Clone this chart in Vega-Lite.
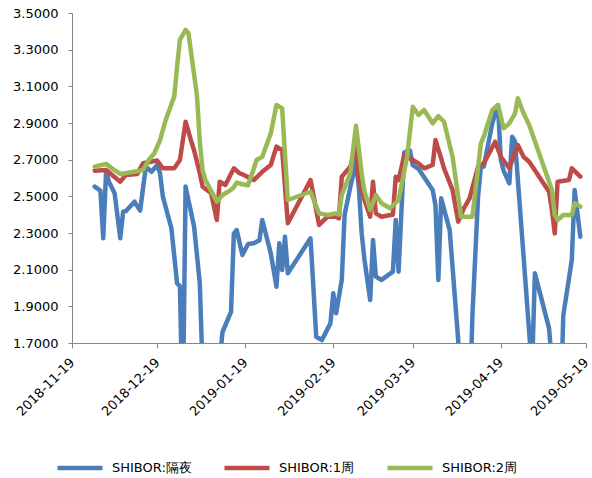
{
  "$schema": "https://vega.github.io/schema/vega-lite/v6.json",
  "width": 514,
  "height": 330,
  "autosize": {"type": "none"},
  "padding": {"left": 72, "top": 13, "right": 6, "bottom": 135},
  "config": {
    "view": {"stroke": null},
    "font": "DejaVu Sans",
    "axis": {"labelFont": "DejaVu Sans", "labelFontSize": 13, "labelColor": "#000000", "domainColor": "#868686", "tickColor": "#868686", "grid": false, "title": null}
  },
  "data": {
    "values": [
      {"date": "2018-11-27", "series": "SHIBOR:隔夜", "value": 2.553},
      {"date": "2018-11-29", "series": "SHIBOR:隔夜", "value": 2.531},
      {"date": "2018-11-30", "series": "SHIBOR:隔夜", "value": 2.271},
      {"date": "2018-12-01", "series": "SHIBOR:隔夜", "value": 2.634},
      {"date": "2018-12-02", "series": "SHIBOR:隔夜", "value": 2.58},
      {"date": "2018-12-04", "series": "SHIBOR:隔夜", "value": 2.517},
      {"date": "2018-12-06", "series": "SHIBOR:隔夜", "value": 2.271},
      {"date": "2018-12-07", "series": "SHIBOR:隔夜", "value": 2.416},
      {"date": "2018-12-08", "series": "SHIBOR:隔夜", "value": 2.42},
      {"date": "2018-12-11", "series": "SHIBOR:隔夜", "value": 2.471},
      {"date": "2018-12-13", "series": "SHIBOR:隔夜", "value": 2.422},
      {"date": "2018-12-15", "series": "SHIBOR:隔夜", "value": 2.662},
      {"date": "2018-12-17", "series": "SHIBOR:隔夜", "value": 2.634},
      {"date": "2018-12-19", "series": "SHIBOR:隔夜", "value": 2.671},
      {"date": "2018-12-20", "series": "SHIBOR:隔夜", "value": 2.626},
      {"date": "2018-12-21", "series": "SHIBOR:隔夜", "value": 2.498},
      {"date": "2018-12-24", "series": "SHIBOR:隔夜", "value": 2.326},
      {"date": "2018-12-26", "series": "SHIBOR:隔夜", "value": 2.026},
      {"date": "2018-12-27", "series": "SHIBOR:隔夜", "value": 2.01},
      {"date": "2018-12-28", "series": "SHIBOR:隔夜", "value": 1.3},
      {"date": "2018-12-29", "series": "SHIBOR:隔夜", "value": 2.553},
      {"date": "2019-01-01", "series": "SHIBOR:隔夜", "value": 2.334},
      {"date": "2019-01-03", "series": "SHIBOR:隔夜", "value": 2.026},
      {"date": "2019-01-04", "series": "SHIBOR:隔夜", "value": 1.55},
      {"date": "2019-01-07", "series": "SHIBOR:隔夜", "value": 1.05},
      {"date": "2019-01-08", "series": "SHIBOR:隔夜", "value": 1.15},
      {"date": "2019-01-09", "series": "SHIBOR:隔夜", "value": 1.35},
      {"date": "2019-01-10", "series": "SHIBOR:隔夜", "value": 1.6},
      {"date": "2019-01-11", "series": "SHIBOR:隔夜", "value": 1.76},
      {"date": "2019-01-14", "series": "SHIBOR:隔夜", "value": 1.87},
      {"date": "2019-01-15", "series": "SHIBOR:隔夜", "value": 2.298},
      {"date": "2019-01-16", "series": "SHIBOR:隔夜", "value": 2.316},
      {"date": "2019-01-18", "series": "SHIBOR:隔夜", "value": 2.18},
      {"date": "2019-01-20", "series": "SHIBOR:隔夜", "value": 2.24},
      {"date": "2019-01-22", "series": "SHIBOR:隔夜", "value": 2.244},
      {"date": "2019-01-24", "series": "SHIBOR:隔夜", "value": 2.26},
      {"date": "2019-01-25", "series": "SHIBOR:隔夜", "value": 2.371},
      {"date": "2019-01-28", "series": "SHIBOR:隔夜", "value": 2.189},
      {"date": "2019-01-30", "series": "SHIBOR:隔夜", "value": 2.007},
      {"date": "2019-01-31", "series": "SHIBOR:隔夜", "value": 2.244},
      {"date": "2019-02-01", "series": "SHIBOR:隔夜", "value": 2.098},
      {"date": "2019-02-02", "series": "SHIBOR:隔夜", "value": 2.28},
      {"date": "2019-02-03", "series": "SHIBOR:隔夜", "value": 2.08},
      {"date": "2019-02-11", "series": "SHIBOR:隔夜", "value": 2.271},
      {"date": "2019-02-13", "series": "SHIBOR:隔夜", "value": 1.734},
      {"date": "2019-02-15", "series": "SHIBOR:隔夜", "value": 1.716},
      {"date": "2019-02-18", "series": "SHIBOR:隔夜", "value": 1.807},
      {"date": "2019-02-19", "series": "SHIBOR:隔夜", "value": 1.971},
      {"date": "2019-02-20", "series": "SHIBOR:隔夜", "value": 1.862},
      {"date": "2019-02-22", "series": "SHIBOR:隔夜", "value": 2.044},
      {"date": "2019-02-23", "series": "SHIBOR:隔夜", "value": 2.4},
      {"date": "2019-02-25", "series": "SHIBOR:隔夜", "value": 2.55},
      {"date": "2019-02-27", "series": "SHIBOR:隔夜", "value": 2.689},
      {"date": "2019-02-28", "series": "SHIBOR:隔夜", "value": 2.55},
      {"date": "2019-03-01", "series": "SHIBOR:隔夜", "value": 2.3},
      {"date": "2019-03-02", "series": "SHIBOR:隔夜", "value": 2.153},
      {"date": "2019-03-04", "series": "SHIBOR:隔夜", "value": 1.935},
      {"date": "2019-03-05", "series": "SHIBOR:隔夜", "value": 2.262},
      {"date": "2019-03-06", "series": "SHIBOR:隔夜", "value": 2.062},
      {"date": "2019-03-08", "series": "SHIBOR:隔夜", "value": 2.044},
      {"date": "2019-03-12", "series": "SHIBOR:隔夜", "value": 2.089},
      {"date": "2019-03-13", "series": "SHIBOR:隔夜", "value": 2.371},
      {"date": "2019-03-14", "series": "SHIBOR:隔夜", "value": 2.089},
      {"date": "2019-03-16", "series": "SHIBOR:隔夜", "value": 2.74},
      {"date": "2019-03-18", "series": "SHIBOR:隔夜", "value": 2.75},
      {"date": "2019-03-19", "series": "SHIBOR:隔夜", "value": 2.67},
      {"date": "2019-03-21", "series": "SHIBOR:隔夜", "value": 2.65},
      {"date": "2019-03-26", "series": "SHIBOR:隔夜", "value": 2.535},
      {"date": "2019-03-27", "series": "SHIBOR:隔夜", "value": 2.45},
      {"date": "2019-03-28", "series": "SHIBOR:隔夜", "value": 2.044},
      {"date": "2019-03-29", "series": "SHIBOR:隔夜", "value": 2.489},
      {"date": "2019-04-01", "series": "SHIBOR:隔夜", "value": 2.316},
      {"date": "2019-04-04", "series": "SHIBOR:隔夜", "value": 1.716},
      {"date": "2019-04-05", "series": "SHIBOR:隔夜", "value": 1.3},
      {"date": "2019-04-08", "series": "SHIBOR:隔夜", "value": 1.3},
      {"date": "2019-04-09", "series": "SHIBOR:隔夜", "value": 1.85},
      {"date": "2019-04-11", "series": "SHIBOR:隔夜", "value": 2.5},
      {"date": "2019-04-12", "series": "SHIBOR:隔夜", "value": 2.662},
      {"date": "2019-04-13", "series": "SHIBOR:隔夜", "value": 2.662},
      {"date": "2019-04-16", "series": "SHIBOR:隔夜", "value": 2.898},
      {"date": "2019-04-18", "series": "SHIBOR:隔夜", "value": 2.998},
      {"date": "2019-04-19", "series": "SHIBOR:隔夜", "value": 2.7},
      {"date": "2019-04-20", "series": "SHIBOR:隔夜", "value": 2.64},
      {"date": "2019-04-22", "series": "SHIBOR:隔夜", "value": 2.571},
      {"date": "2019-04-23", "series": "SHIBOR:隔夜", "value": 2.825},
      {"date": "2019-04-24", "series": "SHIBOR:隔夜", "value": 2.8},
      {"date": "2019-04-30", "series": "SHIBOR:隔夜", "value": 1.55},
      {"date": "2019-05-01", "series": "SHIBOR:隔夜", "value": 2.08},
      {"date": "2019-05-06", "series": "SHIBOR:隔夜", "value": 1.78},
      {"date": "2019-05-08", "series": "SHIBOR:隔夜", "value": 1.4},
      {"date": "2019-05-10", "series": "SHIBOR:隔夜", "value": 1.3},
      {"date": "2019-05-11", "series": "SHIBOR:隔夜", "value": 1.85},
      {"date": "2019-05-14", "series": "SHIBOR:隔夜", "value": 2.153},
      {"date": "2019-05-15", "series": "SHIBOR:隔夜", "value": 2.535},
      {"date": "2019-05-17", "series": "SHIBOR:隔夜", "value": 2.28},

      {"date": "2018-11-27", "series": "SHIBOR:1周", "value": 2.64},
      {"date": "2018-12-01", "series": "SHIBOR:1周", "value": 2.644},
      {"date": "2018-12-06", "series": "SHIBOR:1周", "value": 2.58},
      {"date": "2018-12-08", "series": "SHIBOR:1周", "value": 2.617},
      {"date": "2018-12-12", "series": "SHIBOR:1周", "value": 2.622},
      {"date": "2018-12-14", "series": "SHIBOR:1周", "value": 2.68},
      {"date": "2018-12-19", "series": "SHIBOR:1周", "value": 2.695},
      {"date": "2018-12-21", "series": "SHIBOR:1周", "value": 2.653},
      {"date": "2018-12-25", "series": "SHIBOR:1周", "value": 2.653},
      {"date": "2018-12-27", "series": "SHIBOR:1周", "value": 2.698},
      {"date": "2018-12-29", "series": "SHIBOR:1周", "value": 2.907},
      {"date": "2018-12-31", "series": "SHIBOR:1周", "value": 2.8},
      {"date": "2019-01-01", "series": "SHIBOR:1周", "value": 2.75},
      {"date": "2019-01-03", "series": "SHIBOR:1周", "value": 2.626},
      {"date": "2019-01-04", "series": "SHIBOR:1周", "value": 2.553},
      {"date": "2019-01-07", "series": "SHIBOR:1周", "value": 2.517},
      {"date": "2019-01-09", "series": "SHIBOR:1周", "value": 2.371},
      {"date": "2019-01-10", "series": "SHIBOR:1周", "value": 2.58},
      {"date": "2019-01-12", "series": "SHIBOR:1周", "value": 2.562},
      {"date": "2019-01-15", "series": "SHIBOR:1周", "value": 2.653},
      {"date": "2019-01-17", "series": "SHIBOR:1周", "value": 2.626},
      {"date": "2019-01-18", "series": "SHIBOR:1周", "value": 2.62},
      {"date": "2019-01-22", "series": "SHIBOR:1周", "value": 2.589},
      {"date": "2019-01-25", "series": "SHIBOR:1周", "value": 2.634},
      {"date": "2019-01-28", "series": "SHIBOR:1周", "value": 2.671},
      {"date": "2019-01-30", "series": "SHIBOR:1周", "value": 2.771},
      {"date": "2019-02-01", "series": "SHIBOR:1周", "value": 2.753},
      {"date": "2019-02-03", "series": "SHIBOR:1周", "value": 2.353},
      {"date": "2019-02-11", "series": "SHIBOR:1周", "value": 2.589},
      {"date": "2019-02-14", "series": "SHIBOR:1周", "value": 2.344},
      {"date": "2019-02-17", "series": "SHIBOR:1周", "value": 2.389},
      {"date": "2019-02-20", "series": "SHIBOR:1周", "value": 2.389},
      {"date": "2019-02-21", "series": "SHIBOR:1周", "value": 2.38},
      {"date": "2019-02-22", "series": "SHIBOR:1周", "value": 2.607},
      {"date": "2019-02-25", "series": "SHIBOR:1周", "value": 2.662},
      {"date": "2019-02-27", "series": "SHIBOR:1周", "value": 2.771},
      {"date": "2019-02-28", "series": "SHIBOR:1周", "value": 2.589},
      {"date": "2019-03-02", "series": "SHIBOR:1周", "value": 2.48},
      {"date": "2019-03-04", "series": "SHIBOR:1周", "value": 2.389},
      {"date": "2019-03-05", "series": "SHIBOR:1周", "value": 2.58},
      {"date": "2019-03-06", "series": "SHIBOR:1周", "value": 2.407},
      {"date": "2019-03-08", "series": "SHIBOR:1周", "value": 2.389},
      {"date": "2019-03-11", "series": "SHIBOR:1周", "value": 2.398},
      {"date": "2019-03-12", "series": "SHIBOR:1周", "value": 2.4},
      {"date": "2019-03-13", "series": "SHIBOR:1周", "value": 2.607},
      {"date": "2019-03-14", "series": "SHIBOR:1周", "value": 2.589},
      {"date": "2019-03-16", "series": "SHIBOR:1周", "value": 2.726},
      {"date": "2019-03-19", "series": "SHIBOR:1周", "value": 2.698},
      {"date": "2019-03-21", "series": "SHIBOR:1周", "value": 2.68},
      {"date": "2019-03-23", "series": "SHIBOR:1周", "value": 2.653},
      {"date": "2019-03-26", "series": "SHIBOR:1周", "value": 2.671},
      {"date": "2019-03-27", "series": "SHIBOR:1周", "value": 2.807},
      {"date": "2019-03-29", "series": "SHIBOR:1周", "value": 2.707},
      {"date": "2019-03-30", "series": "SHIBOR:1周", "value": 2.653},
      {"date": "2019-04-02", "series": "SHIBOR:1周", "value": 2.535},
      {"date": "2019-04-04", "series": "SHIBOR:1周", "value": 2.362},
      {"date": "2019-04-06", "series": "SHIBOR:1周", "value": 2.435},
      {"date": "2019-04-08", "series": "SHIBOR:1周", "value": 2.489},
      {"date": "2019-04-11", "series": "SHIBOR:1周", "value": 2.662},
      {"date": "2019-04-13", "series": "SHIBOR:1周", "value": 2.68},
      {"date": "2019-04-17", "series": "SHIBOR:1周", "value": 2.798},
      {"date": "2019-04-19", "series": "SHIBOR:1周", "value": 2.716},
      {"date": "2019-04-22", "series": "SHIBOR:1周", "value": 2.653},
      {"date": "2019-04-25", "series": "SHIBOR:1周", "value": 2.78},
      {"date": "2019-04-27", "series": "SHIBOR:1周", "value": 2.716},
      {"date": "2019-04-29", "series": "SHIBOR:1周", "value": 2.689},
      {"date": "2019-05-06", "series": "SHIBOR:1周", "value": 2.525},
      {"date": "2019-05-07", "series": "SHIBOR:1周", "value": 2.426},
      {"date": "2019-05-08", "series": "SHIBOR:1周", "value": 2.298},
      {"date": "2019-05-09", "series": "SHIBOR:1周", "value": 2.58},
      {"date": "2019-05-13", "series": "SHIBOR:1周", "value": 2.589},
      {"date": "2019-05-14", "series": "SHIBOR:1周", "value": 2.653},
      {"date": "2019-05-17", "series": "SHIBOR:1周", "value": 2.607},

      {"date": "2018-11-27", "series": "SHIBOR:2周", "value": 2.662},
      {"date": "2018-12-01", "series": "SHIBOR:2周", "value": 2.677},
      {"date": "2018-12-03", "series": "SHIBOR:2周", "value": 2.653},
      {"date": "2018-12-06", "series": "SHIBOR:2周", "value": 2.622},
      {"date": "2018-12-11", "series": "SHIBOR:2周", "value": 2.634},
      {"date": "2018-12-14", "series": "SHIBOR:2周", "value": 2.644},
      {"date": "2018-12-16", "series": "SHIBOR:2周", "value": 2.698},
      {"date": "2018-12-18", "series": "SHIBOR:2周", "value": 2.735},
      {"date": "2018-12-20", "series": "SHIBOR:2周", "value": 2.807},
      {"date": "2018-12-22", "series": "SHIBOR:2周", "value": 2.917},
      {"date": "2018-12-25", "series": "SHIBOR:2周", "value": 3.044},
      {"date": "2018-12-26", "series": "SHIBOR:2周", "value": 3.207},
      {"date": "2018-12-27", "series": "SHIBOR:2周", "value": 3.353},
      {"date": "2018-12-29", "series": "SHIBOR:2周", "value": 3.408},
      {"date": "2018-12-30", "series": "SHIBOR:2周", "value": 3.39},
      {"date": "2019-01-02", "series": "SHIBOR:2周", "value": 3.05},
      {"date": "2019-01-03", "series": "SHIBOR:2周", "value": 2.8},
      {"date": "2019-01-04", "series": "SHIBOR:2周", "value": 2.64},
      {"date": "2019-01-05", "series": "SHIBOR:2周", "value": 2.589},
      {"date": "2019-01-07", "series": "SHIBOR:2周", "value": 2.53},
      {"date": "2019-01-09", "series": "SHIBOR:2周", "value": 2.471},
      {"date": "2019-01-11", "series": "SHIBOR:2周", "value": 2.507},
      {"date": "2019-01-14", "series": "SHIBOR:2周", "value": 2.535},
      {"date": "2019-01-15", "series": "SHIBOR:2周", "value": 2.55},
      {"date": "2019-01-16", "series": "SHIBOR:2周", "value": 2.575},
      {"date": "2019-01-18", "series": "SHIBOR:2周", "value": 2.566},
      {"date": "2019-01-20", "series": "SHIBOR:2周", "value": 2.56},
      {"date": "2019-01-22", "series": "SHIBOR:2周", "value": 2.65},
      {"date": "2019-01-23", "series": "SHIBOR:2周", "value": 2.698},
      {"date": "2019-01-25", "series": "SHIBOR:2周", "value": 2.716},
      {"date": "2019-01-28", "series": "SHIBOR:2周", "value": 2.844},
      {"date": "2019-01-30", "series": "SHIBOR:2周", "value": 2.998},
      {"date": "2019-02-01", "series": "SHIBOR:2周", "value": 2.98},
      {"date": "2019-02-03", "series": "SHIBOR:2周", "value": 2.48},
      {"date": "2019-02-11", "series": "SHIBOR:2周", "value": 2.525},
      {"date": "2019-02-14", "series": "SHIBOR:2周", "value": 2.407},
      {"date": "2019-02-17", "series": "SHIBOR:2周", "value": 2.398},
      {"date": "2019-02-20", "series": "SHIBOR:2周", "value": 2.407},
      {"date": "2019-02-21", "series": "SHIBOR:2周", "value": 2.4},
      {"date": "2019-02-22", "series": "SHIBOR:2周", "value": 2.507},
      {"date": "2019-02-25", "series": "SHIBOR:2周", "value": 2.626},
      {"date": "2019-02-27", "series": "SHIBOR:2周", "value": 2.885},
      {"date": "2019-03-01", "series": "SHIBOR:2周", "value": 2.626},
      {"date": "2019-03-02", "series": "SHIBOR:2周", "value": 2.525},
      {"date": "2019-03-04", "series": "SHIBOR:2周", "value": 2.426},
      {"date": "2019-03-06", "series": "SHIBOR:2周", "value": 2.507},
      {"date": "2019-03-08", "series": "SHIBOR:2周", "value": 2.462},
      {"date": "2019-03-11", "series": "SHIBOR:2周", "value": 2.435},
      {"date": "2019-03-14", "series": "SHIBOR:2周", "value": 2.48},
      {"date": "2019-03-17", "series": "SHIBOR:2周", "value": 2.716},
      {"date": "2019-03-19", "series": "SHIBOR:2周", "value": 2.989},
      {"date": "2019-03-21", "series": "SHIBOR:2周", "value": 2.944},
      {"date": "2019-03-23", "series": "SHIBOR:2周", "value": 2.971},
      {"date": "2019-03-26", "series": "SHIBOR:2周", "value": 2.898},
      {"date": "2019-03-28", "series": "SHIBOR:2周", "value": 2.938},
      {"date": "2019-03-30", "series": "SHIBOR:2周", "value": 2.907},
      {"date": "2019-04-02", "series": "SHIBOR:2周", "value": 2.716},
      {"date": "2019-04-05", "series": "SHIBOR:2周", "value": 2.389},
      {"date": "2019-04-09", "series": "SHIBOR:2周", "value": 2.389},
      {"date": "2019-04-12", "series": "SHIBOR:2周", "value": 2.789},
      {"date": "2019-04-13", "series": "SHIBOR:2周", "value": 2.825},
      {"date": "2019-04-16", "series": "SHIBOR:2周", "value": 2.971},
      {"date": "2019-04-18", "series": "SHIBOR:2周", "value": 2.998},
      {"date": "2019-04-20", "series": "SHIBOR:2周", "value": 2.871},
      {"date": "2019-04-22", "series": "SHIBOR:2周", "value": 2.898},
      {"date": "2019-04-24", "series": "SHIBOR:2周", "value": 2.953},
      {"date": "2019-04-25", "series": "SHIBOR:2周", "value": 3.035},
      {"date": "2019-04-27", "series": "SHIBOR:2周", "value": 2.953},
      {"date": "2019-04-29", "series": "SHIBOR:2周", "value": 2.889},
      {"date": "2019-05-07", "series": "SHIBOR:2周", "value": 2.535},
      {"date": "2019-05-08", "series": "SHIBOR:2周", "value": 2.398},
      {"date": "2019-05-09", "series": "SHIBOR:2周", "value": 2.371},
      {"date": "2019-05-11", "series": "SHIBOR:2周", "value": 2.398},
      {"date": "2019-05-14", "series": "SHIBOR:2周", "value": 2.398},
      {"date": "2019-05-15", "series": "SHIBOR:2周", "value": 2.462},
      {"date": "2019-05-17", "series": "SHIBOR:2周", "value": 2.444}
    ]
  },
  "mark": {"type": "line", "clip": true, "strokeWidth": 4.5, "strokeJoin": "round", "strokeCap": "round"},
  "encoding": {
    "x": {
      "field": "date",
      "type": "temporal",
      "scale": {"type": "utc", "domain": [{"year": 2018, "month": 11, "date": 19, "utc": true}, {"year": 2019, "month": 5, "date": 19, "utc": true}]},
      "axis": {
        "values": [
          {"year": 2018, "month": 11, "date": 19, "utc": true},
          {"year": 2018, "month": 12, "date": 19, "utc": true},
          {"year": 2019, "month": 1, "date": 19, "utc": true},
          {"year": 2019, "month": 2, "date": 19, "utc": true},
          {"year": 2019, "month": 3, "date": 19, "utc": true},
          {"year": 2019, "month": 4, "date": 19, "utc": true},
          {"year": 2019, "month": 5, "date": 19, "utc": true}
        ],
        "format": "%Y-%m-%d",
        "labelAngle": -45,
        "labelAlign": "right",
        "labelBaseline": "middle",
        "labelOffset": 0,
        "labelPadding": 12,
        "tickSize": 5,
        "labelOverlap": false,
        "labelFlush": false
      }
    },
    "y": {
      "field": "value",
      "type": "quantitative",
      "scale": {"domain": [1.7, 3.5], "nice": false, "zero": false},
      "axis": {
        "values": [1.7, 1.9, 2.1, 2.3, 2.5, 2.7, 2.9, 3.1, 3.3, 3.5],
        "format": ".4f",
        "tickSize": 4,
        "labelPadding": 10,
        "labelOverlap": false,
        "labelFlush": false
      }
    },
    "color": {
      "field": "series",
      "type": "nominal",
      "scale": {"domain": ["SHIBOR:隔夜", "SHIBOR:1周", "SHIBOR:2周"], "range": ["#4A7EBB", "#BE4B48", "#98B954"]},
      "legend": {
        "title": null,
        "orient": "none",
        "direction": "horizontal",
        "legendX": -17,
        "legendY": 430,
        "padding": 0,
        "symbolType": "stroke",
        "symbolSize": 2025,
        "symbolStrokeWidth": 4.5,
        "labelFont": "DejaVu Sans",
        "labelFontSize": 13,
        "labelColor": "#000000",
        "labelOffset": 7,
        "columnPadding": 23
      }
    }
  }
}
